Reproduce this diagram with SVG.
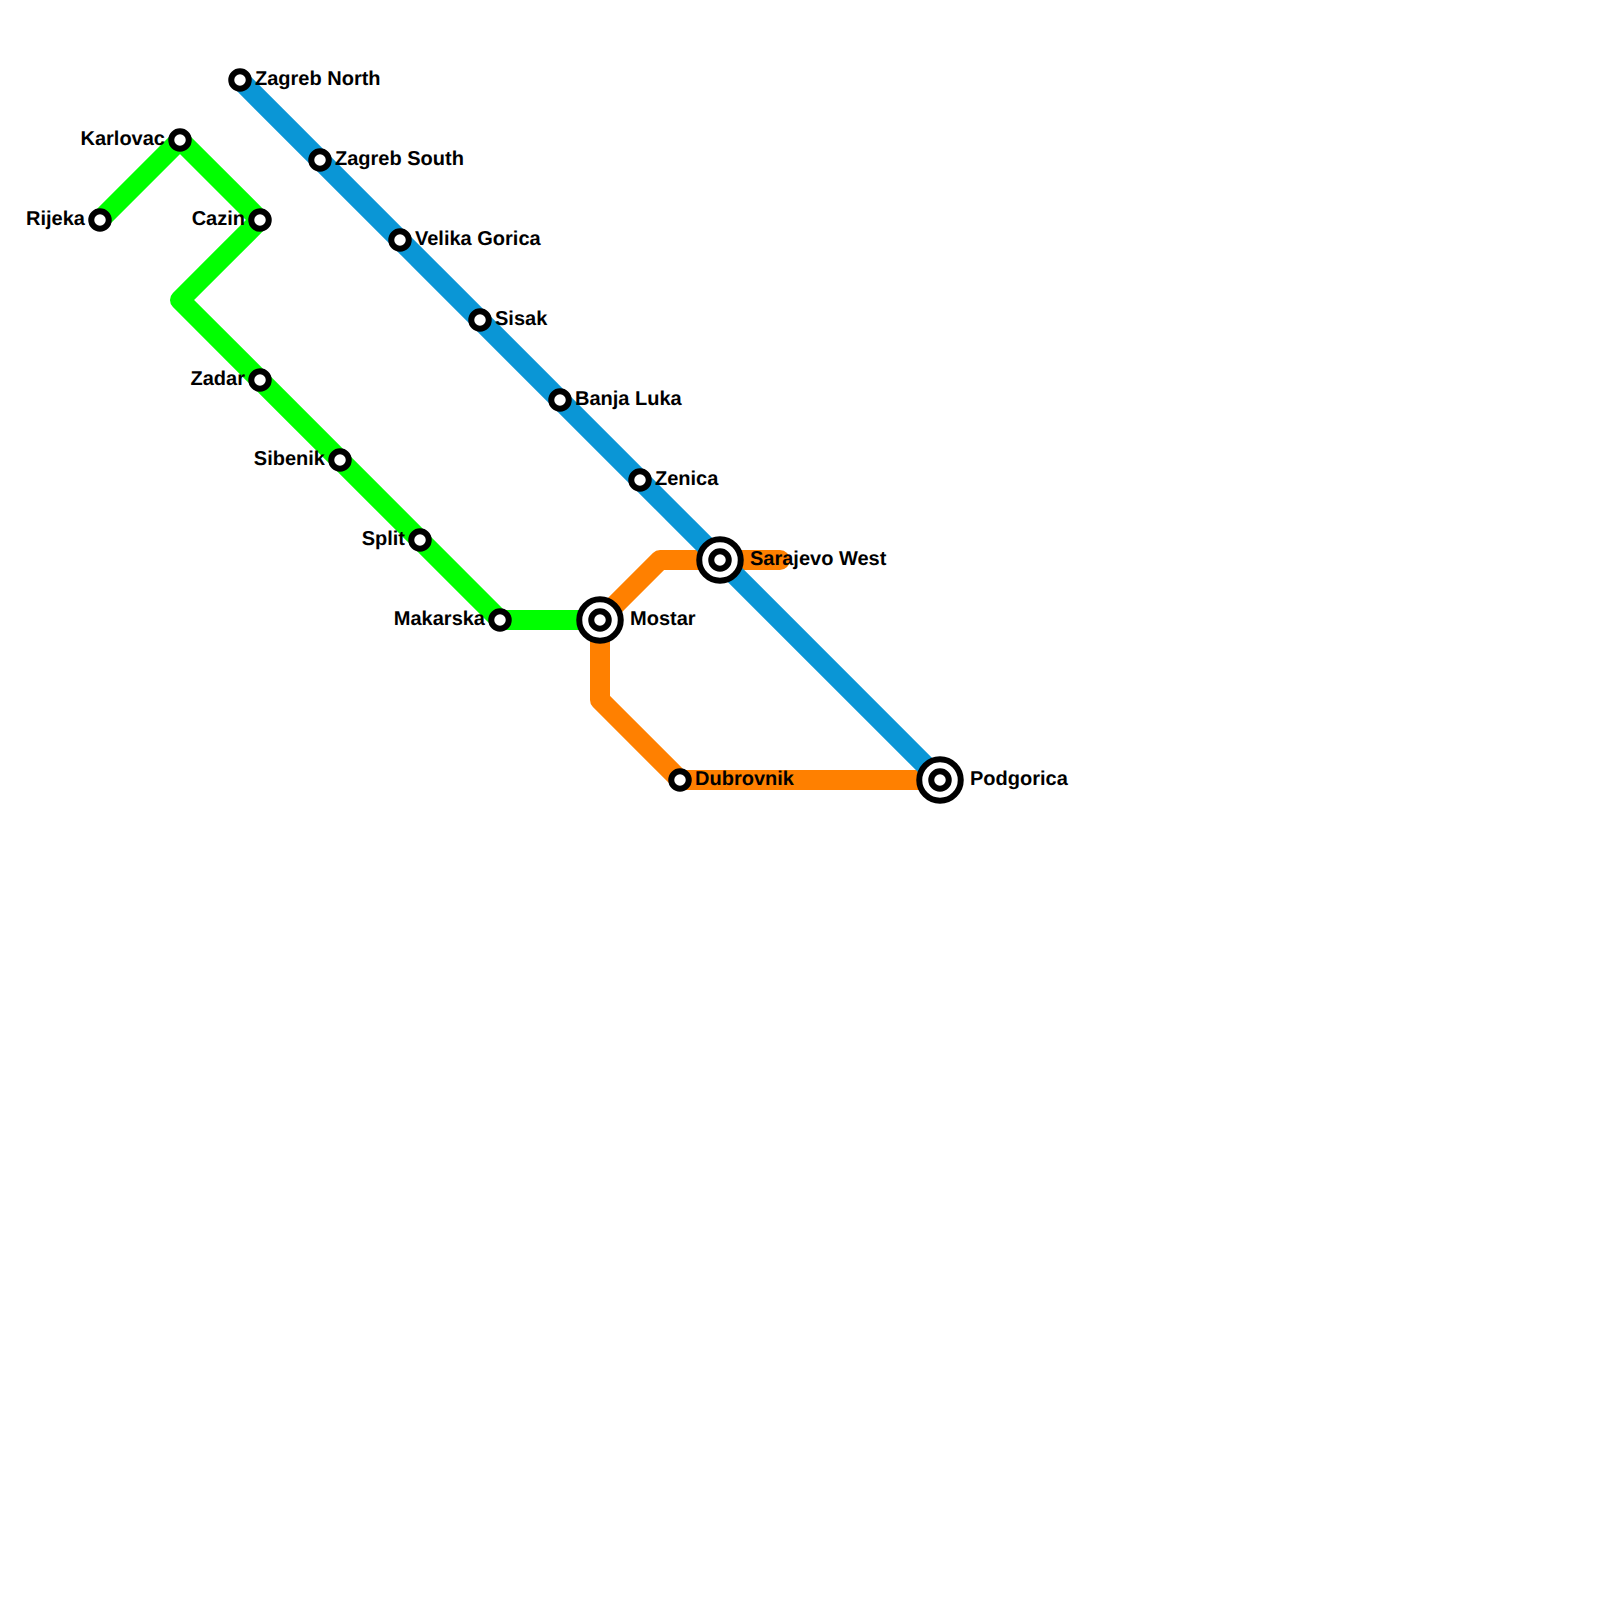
<svg xmlns="http://www.w3.org/2000/svg" width="1600" height="1600" viewBox="0 0 1600 1600">
<style>
.line{fill:none;stroke-width:20;stroke-linecap:round;stroke-linejoin:round}
.st{fill:#fff;stroke:#000;stroke-width:6}
text{font-family:"Liberation Sans",Arial,sans-serif;font-weight:bold;font-size:20px;fill:#000;text-rendering:geometricPrecision}
.l{text-anchor:end}
</style>
<rect width="1600" height="1600" fill="#fff"/>
<g id="connectors">
<path class="line" stroke="#ff8000" d="M780 560H660L600 620V700L680 780H940"/>
<path class="line" stroke="#0a96d6" d="M240 80L940 780"/>
<path class="line" stroke="#00ff00" d="M100 220L180 140L260 220L180 300L500 620H600"/>
</g>
<g id="rijeka"><circle class="st" cx="100" cy="220" r="8.75"/><text class="l" x="85" y="225">Rijeka</text></g>
<g id="karlovac"><circle class="st" cx="180" cy="140" r="8.75"/><text class="l" x="165" y="145">Karlovac</text></g>
<g id="cazin"><circle class="st" cx="260" cy="220" r="8.75"/><text class="l" x="245" y="225">Cazin</text></g>
<g id="zadar"><circle class="st" cx="260" cy="380" r="8.75"/><text class="l" x="245" y="385">Zadar</text></g>
<g id="sibenik"><circle class="st" cx="340" cy="460" r="8.75"/><text class="l" x="325" y="465">Sibenik</text></g>
<g id="split"><circle class="st" cx="420" cy="540" r="8.75"/><text class="l" x="405" y="545">Split</text></g>
<g id="makarska"><circle class="st" cx="500" cy="620" r="8.75"/><text class="l" x="485" y="625">Makarska</text></g>
<g id="zagreb-north"><circle class="st" cx="240" cy="80" r="8.75"/><text x="255" y="85">Zagreb North</text></g>
<g id="zagreb-south"><circle class="st" cx="320" cy="160" r="8.75"/><text x="335" y="165">Zagreb South</text></g>
<g id="velika-gorica"><circle class="st" cx="400" cy="240" r="8.75"/><text x="415" y="245">Velika Gorica</text></g>
<g id="sisak"><circle class="st" cx="480" cy="320" r="8.75"/><text x="495" y="325">Sisak</text></g>
<g id="banja-luka"><circle class="st" cx="560" cy="400" r="8.75"/><text x="575" y="405">Banja Luka</text></g>
<g id="zenica"><circle class="st" cx="640" cy="480" r="8.75"/><text x="655" y="485">Zenica</text></g>
<g id="dubrovnik"><circle class="st" cx="680" cy="780" r="8.75"/><text x="695" y="785">Dubrovnik</text></g>
<g id="mostar"><circle class="st" cx="600" cy="620" r="20.75"/><circle class="st" cx="600" cy="620" r="8.75"/><text x="630" y="625">Mostar</text></g>
<g id="sarajevo-west"><circle class="st" cx="720" cy="560" r="20.75"/><circle class="st" cx="720" cy="560" r="8.75"/><text x="750" y="565">Sarajevo West</text></g>
<g id="podgorica"><circle class="st" cx="940" cy="780" r="20.75"/><circle class="st" cx="940" cy="780" r="8.75"/><text x="970" y="785">Podgorica</text></g>
</svg>
